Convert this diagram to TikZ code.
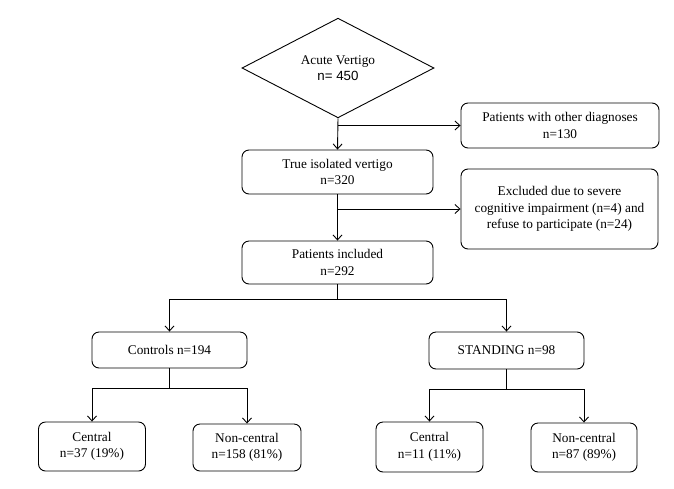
\documentclass[tikz,border=0pt]{standalone}
\usepackage{fontspec}
\setmainfont{Liberation Serif}
\newfontfamily\arialfont{Liberation Sans}
\usetikzlibrary{shapes.geometric,arrows.meta}

\begin{document}
\begin{tikzpicture}[x=1pt,y=-1pt,line width=0.9pt,
  box/.style={draw, rounded corners=7pt, align=center, inner sep=0pt,
    font=\fontsize{13.3}{16.5}\selectfont},
  link/.style={-{Straight Barb[length=5pt,width=9pt]}}]
  \useasboundingbox (0,0) rectangle (674,488);

  % Screening
  \node[diamond, draw, align=center, inner sep=0pt, minimum width=192pt,
    minimum height=73pt, font=\fontsize{13.3}{16.5}\selectfont]
    (acute) at (338,68) {Acute Vertigo\\{\arialfont n= 450}};
  \node[box, minimum width=198pt, minimum height=45pt] (other) at (560,125.5)
    {Patients with other diagnoses\\n=130};
  \node[box, minimum width=191pt, minimum height=44pt] (isolated) at (337.5,172)
    {True isolated vertigo\\n=320};
  \node[box, minimum width=197pt, minimum height=80pt] (excluded) at (559.5,209)
    {Excluded due to severe\\cognitive impairment (n=4) and\\refuse to participate (n=24)};
  \node[box, minimum width=191pt, minimum height=43pt] (included) at (337.5,262.5)
    {Patients included\\n=292};

  % Groups
  \node[box, minimum width=155pt, minimum height=36pt] (controls) at (169.5,350)
    {Controls n=194};
  \node[box, minimum width=155pt, minimum height=37pt] (standing) at (506.5,350.5)
    {STANDING n=98};

  % Outcomes
  \node[box, minimum width=107pt, minimum height=49pt] (ccentral) at (92,446.5)
    {Central\\n=37 (19\%)};
  \node[box, minimum width=108pt, minimum height=47pt] (cnoncentral) at (247,447.5)
    {Non-central\\n=158 (81\%)};
  \node[box, minimum width=107pt, minimum height=50pt] (scentral) at (429.5,447)
    {Central\\n=11 (11\%)};
  \node[box, minimum width=106pt, minimum height=49pt] (snoncentral) at (584,447.5)
    {Non-central\\n=87 (89\%)};

  % Branch points
  \coordinate (split) at (337.5,299);
  \coordinate (csplit) at (169.5,388);
  \coordinate (ssplit) at (506.5,389);

  % Connectors
  \draw[link] (acute.south) -- (isolated.north);
  \draw[link] (acute.south |- other.west) -- (other.west);
  \draw[link] (isolated.south) -- (included.north);
  \draw[link] (isolated.south |- excluded.west) -- (excluded.west);
  \draw (included.south) -- (split);
  \draw[link] (split) -| (controls.north);
  \draw[link] (split) -| (standing.north);
  \draw (controls.south) -- (csplit);
  \draw[link] (csplit) -| (ccentral.north);
  \draw[link] (csplit) -| (cnoncentral.north);
  \draw (standing.south) -- (ssplit);
  \draw[link] (ssplit) -| (scentral.north);
  \draw[link] (ssplit) -| (snoncentral.north);
\end{tikzpicture}
\end{document}
